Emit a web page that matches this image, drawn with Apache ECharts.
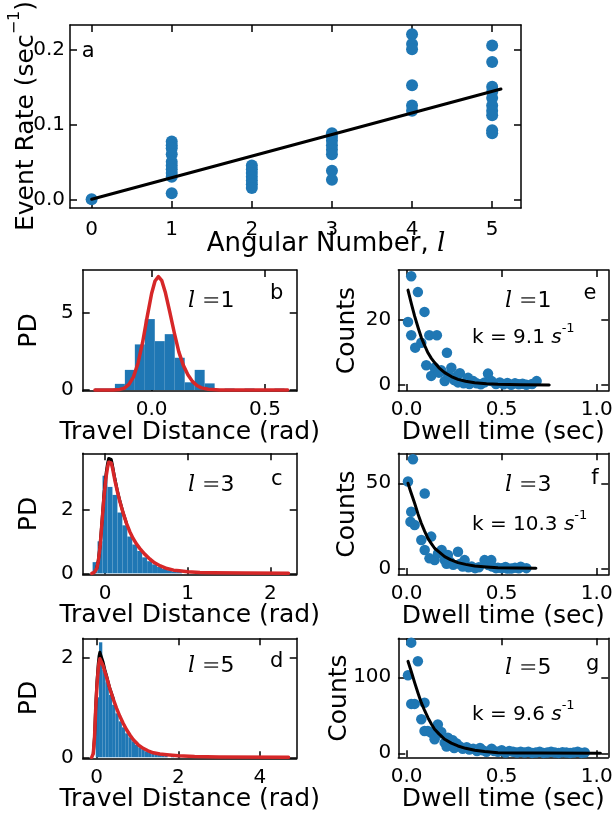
<!DOCTYPE html>
<html>
<head>
<meta charset="utf-8">
<script src="https://cdn.jsdelivr.net/npm/echarts@6/dist/echarts.min.js"></script>
<style>
  html, body { margin: 0; padding: 0; background: #ffffff; }
  #chart { width: 614px; height: 820px; }
</style>
</head>
<body>
<div id="chart"></div>
<script>
// ---------- panel a: event rate against angular number ----------
const angularNumbers = [0, 1, 2, 3, 4, 5];
const eventRates = [
  [0.0],
  [0.077, 0.072, 0.068, 0.060, 0.050, 0.045, 0.040, 0.035, 0.030, 0.008],
  [0.045, 0.040, 0.035, 0.030, 0.025, 0.020, 0.015],
  [0.088, 0.083, 0.078, 0.072, 0.066, 0.060, 0.038, 0.026],
  [0.220, 0.207, 0.200, 0.152, 0.125, 0.118],
  [0.205, 0.183, 0.150, 0.143, 0.135, 0.125, 0.118, 0.112, 0.092, 0.088]
];
const rateFitX = [0, 5.11];
const rateFitY = [0, 0.147];
const rateTicksX = [0, 1, 2, 3, 4, 5];
const rateTicksY = [0, 0.1, 0.2];

// ---------- panels b-d: travel distance histograms (PD) ----------
const travelBinWidthL1 = 0.044;
const travelBinLeftL1 = [-0.25, -0.206, -0.162, -0.118, -0.074, -0.03, 0.014, 0.058, 0.102, 0.146, 0.19, 0.234, 0.278, 0.322, 0.41, 0.542];
const travelPdL1 = [0.1, 0.1, 0.4, 1.3, 2.94, 4.57, 3.15, 3.6, 2.08, 0.5, 1.3, 0.43, 0.05, 0.1, 0.1, 0.1];
const travelFitXL1 = [-0.25, -0.2, -0.17, -0.14, -0.12, -0.10, -0.08, -0.06, -0.04, -0.02, 0.0, 0.015, 0.03, 0.045, 0.06, 0.08, 0.10, 0.12, 0.14, 0.16, 0.18, 0.20, 0.22, 0.25, 0.30, 0.35, 0.6];
const travelFitYL1 = [0, 0, 0.006, 0.04, 0.13, 0.36, 0.85, 1.73, 3.05, 4.68, 6.22, 7.02, 7.3, 7.04, 6.32, 5.04, 3.69, 2.46, 1.59, 0.99, 0.56, 0.29, 0.14, 0.05, 0.01, 0, 0];

const travelBinWidthL3 = 0.06;
const travelBinLeftL3 = [-0.15, -0.09, -0.03, 0.03, 0.09, 0.15, 0.21, 0.27, 0.33, 0.39, 0.45, 0.51, 0.57, 0.63, 0.69, 0.75, 0.81, 0.87, 1.41, 1.77];
const travelPdL3 = [0.35, 1.0, 3.05, 2.7, 2.45, 1.9, 1.5, 1.15, 0.9, 0.7, 0.5, 0.38, 0.28, 0.2, 0.14, 0.1, 0.06, 0.05, 0.03, 0.03];
const travelFitXL3 = [-0.16, -0.13, -0.1, -0.08, -0.06, -0.045, -0.03, -0.015, 0, 0.015, 0.03, 0.045, 0.06, 0.075, 0.09, 0.105, 0.12, 0.15, 0.18, 0.22, 0.26, 0.30, 0.34, 0.38, 0.42, 0.48, 0.545, 0.6, 0.67, 0.75, 0.83, 0.9, 1.0, 1.15, 1.3, 1.7, 2.22];
const travelFitYL3 = [0, 0.03, 0.15, 0.4, 0.83, 1.3, 1.8, 2.3, 2.7, 3.05, 3.3, 3.47, 3.52, 3.45, 3.3, 3.1, 2.9, 2.55, 2.24, 1.88, 1.56, 1.3, 1.09, 0.92, 0.78, 0.6, 0.44, 0.33, 0.23, 0.15, 0.1, 0.08, 0.05, 0.03, 0.02, 0.01, 0];
const travelAltXL3 = [-0.1, -0.08, -0.06, -0.045, -0.03, -0.015, 0, 0.015, 0.03, 0.045, 0.06, 0.075, 0.09, 0.105, 0.12, 0.15, 0.18, 0.22, 0.26];
const travelAltYL3 = [0.15, 0.42, 0.86, 1.35, 1.86, 2.38, 2.8, 3.16, 3.42, 3.59, 3.64, 3.56, 3.38, 3.16, 2.95, 2.58, 2.26, 1.89, 1.56];

const travelBinWidthL5 = 0.08;
const travelBinLeftL5 = [-0.02, 0.06, 0.14, 0.22, 0.30, 0.38, 0.46, 0.54, 0.62, 0.70, 0.78, 0.86, 0.94, 1.02, 1.10, 1.18, 1.26, 1.34, 1.42, 1.50, 1.58, 1.66, 1.82, 1.98, 2.22, 2.38, 2.62];
const travelPdL5 = [1.2, 2.3, 1.75, 1.5, 1.25, 1.05, 0.88, 0.72, 0.6, 0.48, 0.4, 0.32, 0.25, 0.2, 0.16, 0.12, 0.1, 0.08, 0.07, 0.06, 0.05, 0.04, 0.03, 0.02, 0.02, 0.02, 0.02];
const travelFitXL5 = [-0.12, -0.08, -0.05, -0.02, 0.01, 0.04, 0.06, 0.08, 0.11, 0.16, 0.2, 0.245, 0.32, 0.41, 0.49, 0.57, 0.65, 0.735, 0.82, 0.9, 1.02, 1.14, 1.26, 1.39, 1.55, 1.72, 2.0, 2.4, 3.0, 4.7];
const travelFitYL5 = [0, 0.08, 0.4, 1.0, 1.45, 1.76, 1.9, 1.97, 1.95, 1.83, 1.72, 1.6, 1.38, 1.16, 0.98, 0.82, 0.68, 0.55, 0.44, 0.35, 0.25, 0.18, 0.13, 0.09, 0.065, 0.05, 0.03, 0.015, 0.005, 0];
const travelAltXL5 = [-0.08, -0.05, -0.02, 0.01, 0.04, 0.06, 0.08, 0.11, 0.16, 0.2, 0.245, 0.32, 0.41];
const travelAltYL5 = [0.08, 0.42, 1.05, 1.52, 1.86, 2.02, 2.1, 2.06, 1.9, 1.76, 1.63, 1.39, 1.17];

// ---------- panels e-g: dwell time counts ----------
const dwellTimeL1 = [0.007, 0.024, 0.024, 0.045, 0.059, 0.077, 0.094, 0.103, 0.119, 0.129, 0.147, 0.159, 0.17, 0.182, 0.2, 0.212, 0.22, 0.235, 0.25, 0.26, 0.27, 0.28, 0.30, 0.323, 0.33, 0.35, 0.368, 0.39, 0.41, 0.428, 0.447, 0.47, 0.49, 0.51, 0.53, 0.55, 0.57, 0.59, 0.61, 0.63, 0.66, 0.684];
const dwellCountL1 = [19.4, 33.5, 15.3, 11.5, 28.6, 13, 22.5, 6.1, 15.3, 2.8, 5.3, 15.3, 3.8, 4.5, 1.2, 9.9, 3.0, 5.3, 1.5, 2.5, 0.8, 3.6, 0.5, 2.2, 0.3, 1.2, 0.5, 0.2, 0.8, 3.5, 1.2, 0.3, 0.8, 0.2, 0.6, 0.1, 0.5, 0.2, 0.4, 0.1, 0.3, 1.2];
const dwellFitXL1 = [0.007, 0.025, 0.042, 0.06, 0.077, 0.095, 0.112, 0.13, 0.147, 0.17, 0.2, 0.235, 0.27, 0.31, 0.358, 0.42, 0.48, 0.6, 0.75];
const dwellFitYL1 = [29.2, 25, 21.2, 17.7, 14.6, 12.1, 9.9, 8.2, 6.9, 5.3, 3.8, 2.6, 1.74, 1.15, 0.7, 0.4, 0.2, 0.05, 0];

const dwellTimeL3 = [0.007, 0.02, 0.024, 0.033, 0.042, 0.077, 0.095, 0.095, 0.12, 0.129, 0.147, 0.165, 0.184, 0.2, 0.21, 0.217, 0.228, 0.245, 0.27, 0.28, 0.295, 0.305, 0.325, 0.342, 0.36, 0.38, 0.41, 0.43, 0.445, 0.45, 0.47, 0.48, 0.5, 0.52, 0.53, 0.55, 0.57, 0.59, 0.6, 0.63];
const dwellCountL3 = [51, 27.6, 33.4, 64, 25.7, 16.9, 44, 11.1, 6.2, 18.9, 5.2, 9.1, 11.1, 5.2, 3.0, 8.2, 4.3, 2.5, 10.1, 2.9, 1.5, 5.2, 1.0, 1.4, 0.5, 1.0, 5.2, 2.3, 5.2, 1.5, 0.5, 0.8, 0.5, 1.2, 0.3, 0.3, 0.8, 0.4, 1.3, 0.5];
const dwellFitXL3 = [0.007, 0.02, 0.042, 0.06, 0.077, 0.095, 0.112, 0.13, 0.147, 0.17, 0.2, 0.23, 0.27, 0.31, 0.358, 0.42, 0.48, 0.58, 0.68];
const dwellFitYL3 = [50, 45.5, 38.3, 32, 26.7, 22, 17.9, 14.8, 12.1, 10, 7.2, 5.5, 3.7, 2.7, 1.75, 1.2, 0.8, 0.55, 0.4];

const dwellTimeL5 = [0.007, 0.024, 0.024, 0.042, 0.059, 0.077, 0.094, 0.094, 0.112, 0.13, 0.147, 0.164, 0.17, 0.182, 0.2, 0.217, 0.21, 0.235, 0.243, 0.25, 0.263, 0.28, 0.295, 0.316, 0.33, 0.35, 0.37, 0.386, 0.4, 0.42, 0.447, 0.46, 0.48, 0.5, 0.52, 0.54, 0.56, 0.58, 0.6, 0.62, 0.64, 0.66, 0.68, 0.7, 0.72, 0.74, 0.76, 0.78, 0.8, 0.82, 0.84, 0.86, 0.88, 0.9, 0.92, 0.937];
const dwellCountL5 = [102.6, 145.6, 65, 65, 121, 44.7, 66.6, 29.4, 29.4, 27, 18.4, 38, 26, 28, 14, 20.5, 9, 12, 17, 7, 13, 9, 6, 8, 5, 6, 3, 7, 4, 2, 6, 3, 2, 4, 1, 3, 2, 1, 2, 1, 2, 0.5, 1, 2, 0.5, 1, 2, 1, 0.5, 1.5, 1, 0.5, 1, 2, 0.5, 1];
const dwellFitXL5 = [0.007, 0.025, 0.042, 0.06, 0.077, 0.095, 0.112, 0.13, 0.147, 0.17, 0.2, 0.235, 0.27, 0.31, 0.358, 0.41, 0.48, 0.58, 0.7, 1.02];
const dwellFitYL5 = [121, 107, 93, 79, 66.6, 56, 46.8, 38.5, 31.6, 25.5, 18.4, 13.3, 9.6, 6.5, 3.9, 2.2, 0.8, 0.4, 0.2, 0];

// ---------- styling ----------
const BLUE = '#1f77b4';
const RED = '#d62728';
const INK = '#000000';
const SANS = 'DejaVu Sans';

// plot frames, axis ranges and label gaps of the seven panels
const panels = [
  { left: 70,    top: 25,    width: 451, height: 183,   x: [-0.27, 5.36],   y: [-0.0116, 0.2324], xt: rateTicksX,  yt: rateTicksY, xd: 0, yd: 1, xm: 12, ym: 5 },
  { left: 82.7,  top: 270,   width: 214, height: 121,   x: [-0.304, 0.64],  y: [-0.06, 7.73],     xt: [0, 0.5],    yt: [0, 5],     xd: 1, yd: 0, xm: 9, ym: 9 },
  { left: 82.7,  top: 453.3, width: 214, height: 121,   x: [-0.27, 2.32],   y: [-0.03, 3.75],     xt: [0, 1, 2],   yt: [0, 2],     xd: 0, yd: 0, xm: 9, ym: 9 },
  { left: 82.7,  top: 638.3, width: 214, height: 120,   x: [-0.34, 4.9],    y: [-0.02, 2.38],     xt: [0, 2, 4],   yt: [0, 2],     xd: 0, yd: 0, xm: 9, ym: 9 },
  { left: 398.3, top: 270,   width: 210, height: 121,   x: [-0.044, 1.061], y: [-1.85, 35.4],     xt: [0, 0.5, 1], yt: [0, 20],    xd: 1, yd: 0, xm: 9, ym: 7 },
  { left: 398.3, top: 453.3, width: 210, height: 121.7, x: [-0.044, 1.061], y: [-3.5, 67.5],      xt: [0, 0.5, 1], yt: [0, 50],    xd: 1, yd: 0, xm: 9, ym: 7 },
  { left: 398.3, top: 638.3, width: 210, height: 119,   x: [-0.044, 1.061], y: [-5.3, 151.3],     xt: [0, 0.5, 1], yt: [0, 100],   xd: 1, yd: 0, xm: 9, ym: 7 }
];

function makeAxis(gridIndex, position, range, ticks, decimals, withLabels, margin) {
  return {
    type: 'value',
    gridIndex: gridIndex,
    position: position,
    offset: 0,
    min: range[0],
    max: range[1],
    axisLine: { show: true, onZero: false, lineStyle: { color: INK, width: 1.5 } },
    axisTick: { show: true, inside: true, length: 7, customValues: ticks, lineStyle: { color: INK, width: 1.5 } },
    axisLabel: {
      show: withLabels, customValues: ticks, margin: margin,
      formatter: v => Number(v).toFixed(decimals),
      fontFamily: SANS, fontSize: 20, color: INK
    },
    splitLine: { show: false },
    minorTick: { show: false }
  };
}

const grid = [], xAxis = [], yAxis = [];
panels.forEach((p, i) => {
  grid.push({ left: p.left, top: p.top, width: p.width, height: p.height, containLabel: false, outerBoundsMode: 'none' });
  xAxis.push(makeAxis(i, 'bottom', p.x, p.xt, p.xd, true, p.xm));
  xAxis.push(makeAxis(i, 'top', p.x, p.xt, p.xd, false, p.xm));
  yAxis.push(makeAxis(i, 'left', p.y, p.yt, p.yd, true, p.ym));
  yAxis.push(makeAxis(i, 'right', p.y, p.yt, p.yd, false, p.ym));
});

const zip = (xs, ys) => xs.map((x, k) => [x, ys[k]]);

function scatterSeries(i, data, size) {
  return { type: 'scatter', xAxisIndex: 2 * i, yAxisIndex: 2 * i, data: data, symbol: 'circle', symbolSize: size,
           itemStyle: { color: BLUE, opacity: 1 }, z: 2 };
}
function lineSeries(i, data, color, width, z) {
  return { type: 'line', xAxisIndex: 2 * i, yAxisIndex: 2 * i, data: data, showSymbol: false, symbol: 'none',
           smooth: false, lineStyle: { color: color, width: width, cap: 'round', join: 'round' }, z: z };
}
function histSeries(i, lefts, heights, binWidth) {
  return {
    type: 'custom', xAxisIndex: 2 * i, yAxisIndex: 2 * i,
    data: lefts.map((l, k) => [l, l + binWidth, heights[k]]),
    encode: { x: [0, 1], y: 2 },
    renderItem: (params, api) => {
      const p0 = api.coord([api.value(0), 0]);
      const p1 = api.coord([api.value(1), api.value(2)]);
      return { type: 'rect', shape: { x: p0[0], y: p1[1], width: p1[0] - p0[0], height: p0[1] - p1[1] },
               style: { fill: BLUE } };
    },
    z: 1
  };
}

const rateData = [];
angularNumbers.forEach((l, k) => eventRates[k].forEach(r => rateData.push([l, r])));

const series = [
  scatterSeries(0, rateData, 12),
  lineSeries(0, zip(rateFitX, rateFitY), INK, 3, 3),

  histSeries(1, travelBinLeftL1, travelPdL1, travelBinWidthL1),
  lineSeries(1, zip(travelFitXL1, travelFitYL1), RED, 3.5, 4),

  histSeries(2, travelBinLeftL3, travelPdL3, travelBinWidthL3),
  lineSeries(2, zip(travelAltXL3, travelAltYL3), INK, 3, 3),
  lineSeries(2, zip(travelFitXL3, travelFitYL3), RED, 3.5, 4),

  histSeries(3, travelBinLeftL5, travelPdL5, travelBinWidthL5),
  lineSeries(3, zip(travelAltXL5, travelAltYL5), INK, 3, 3),
  lineSeries(3, zip(travelFitXL5, travelFitYL5), RED, 3.5, 4),

  scatterSeries(4, zip(dwellTimeL1, dwellCountL1), 10.5),
  lineSeries(4, zip(dwellFitXL1, dwellFitYL1), INK, 3, 3),

  scatterSeries(5, zip(dwellTimeL3, dwellCountL3), 10.5),
  lineSeries(5, zip(dwellFitXL3, dwellFitYL3), INK, 3, 3),

  scatterSeries(6, zip(dwellTimeL5, dwellCountL5), 10.5),
  lineSeries(6, zip(dwellFitXL5, dwellFitYL5), INK, 3, 3)
];

// ---------- text: axis titles, panel letters, annotations ----------
const TITLE = 25;
function plainText(text, x, y, size) {
  return {
    type: 'text', x: x, y: y, z: 50,
    style: { text: text, fontFamily: SANS, fontSize: size, fill: INK, align: 'center', verticalAlign: 'middle' }
  };
}
function vText(text, x, y, size, rich) {
  return {
    type: 'text', x: x, y: y, rotation: Math.PI / 2, z: 50,
    style: { text: text, fontFamily: SANS, fontSize: size, fill: INK, align: 'center', verticalAlign: 'middle', rich: rich }
  };
}
const lRich = {
  l: { fontFamily: 'DejaVu Serif', fontStyle: 'italic', fontSize: 22, fill: INK },
  e: { fontFamily: 'DejaVu Serif', fontSize: 22, fill: '#555555' },
  n: { fontFamily: SANS, fontSize: 22, fill: INK }
};
function angText(n, x, y) {
  return { type: 'text', x: x, y: y, z: 50,
           style: { text: '{l|l}{e| =}{n|' + n + '}', rich: lRich, align: 'left', verticalAlign: 'middle' } };
}
const kRich = {
  t: { fontFamily: SANS, fontSize: 20, fill: INK, lineHeight: 26, verticalAlign: 'bottom' },
  s: { fontFamily: SANS, fontStyle: 'italic', fontSize: 20, fill: INK, lineHeight: 26, verticalAlign: 'bottom' },
  p: { fontFamily: SANS, fontSize: 13, fill: INK, lineHeight: 26, verticalAlign: 'top' }
};
function rateText(k, x, y) {
  return { type: 'text', x: x, y: y, z: 50,
           style: { text: '{t|k = ' + k + ' }{s|s}{p|-1}', rich: kRich, align: 'left', verticalAlign: 'middle' } };
}

const graphic = [
  // panel a
  vText('{t|Event Rate (sec}{p|\u22121}{t|)}', 23, 116, TITLE, {
    t: { fontFamily: SANS, fontSize: TITLE, fill: INK, lineHeight: 32, verticalAlign: 'bottom' },
    p: { fontFamily: SANS, fontSize: 16, fill: INK, lineHeight: 32, verticalAlign: 'top' }
  }),
  { type: 'text', x: 326, y: 244, z: 50,
    style: { text: '{t|Angular Number, }{l|l}', align: 'center', verticalAlign: 'middle',
             rich: { t: { fontFamily: SANS, fontSize: 26, fill: INK },
                     l: { fontFamily: 'DejaVu Serif', fontStyle: 'italic', fontSize: 26, fill: INK } } } },
  plainText('a', 88.3, 51.7, 21),

  // left column
  vText('PD', 29, 330.5, TITLE),
  vText('PD', 29, 514, TITLE),
  vText('PD', 29, 698, TITLE),
  plainText('Travel Distance (rad)', 189.7, 432, TITLE),
  plainText('Travel Distance (rad)', 189.7, 615.5, TITLE),
  plainText('Travel Distance (rad)', 189.7, 799, TITLE),
  angText(1, 188, 301.7), angText(3, 188, 485), angText(5, 188, 666.7),
  plainText('b', 276.7, 293.3, 21),
  plainText('c', 276.7, 479.3, 21),
  plainText('d', 276.7, 661.7, 21),

  // right column
  vText('Counts', 347, 330.5, TITLE),
  vText('Counts', 347, 514, TITLE),
  vText('Counts', 339, 698, TITLE),
  plainText('Dwell time (sec)', 503.3, 432.5, TITLE),
  plainText('Dwell time (sec)', 503.3, 616, TITLE),
  plainText('Dwell time (sec)', 503.3, 799, TITLE),
  angText(1, 505, 301.7), angText(3, 505, 485), angText(5, 505, 668.3),
  rateText('9.1', 472, 335), rateText('10.3', 472, 521.7), rateText('9.6', 472, 711.7),
  plainText('e', 590, 293.3, 21),
  plainText('f', 595, 478.3, 21),
  plainText('g', 592.7, 665, 21)
];

const chart = echarts.init(document.getElementById('chart'), null, { renderer: 'canvas', width: 614, height: 820 });
chart.setOption({
  backgroundColor: '#ffffff',
  animation: false,
  textStyle: { fontFamily: SANS },
  grid: grid,
  xAxis: xAxis,
  yAxis: yAxis,
  series: series,
  graphic: graphic
});
</script>
</body>
</html>
